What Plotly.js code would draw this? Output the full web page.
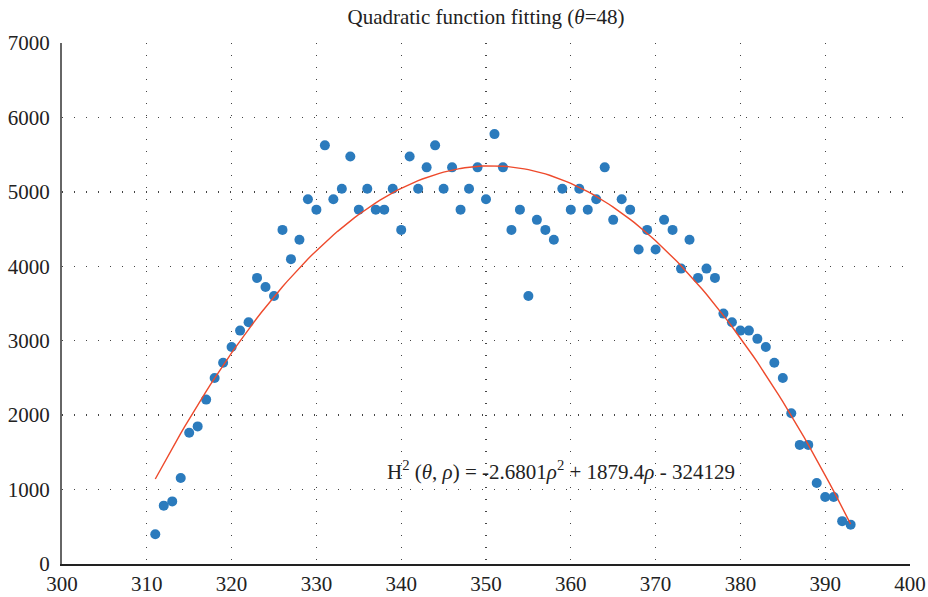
<!DOCTYPE html>
<html>
<head>
<meta charset="utf-8">
<script src="https://cdn.plot.ly/plotly-3.0.1.min.js"></script>
<style>html,body{margin:0;padding:0;background:#fff;}#chart{width:928px;height:597px;}</style>
</head>
<body>
<div id="chart"></div>
<script>
// Measured points: rho (x) and H^2 (y)
const rhoValues = [311,312,313,314,315,316,317,318,319,320,321,322,323,324,325,326,327,328,329,330,
  331,332,333,334,335,336,337,338,339,340,341,342,343,344,345,346,347,348,349,350,
  351,352,353,354,355,356,357,358,359,360,361,362,363,364,365,366,367,368,369,370,
  371,372,373,374,375,376,377,378,379,380,381,382,383,384,385,386,387,388,389,390,
  391,392,393];
const h2Values = [400,784,841,1156,1764,1849,2209,2500,2704,2916,3136,3249,3844,3721,3600,4489,4096,4356,4900,4761,
  5625,4900,5041,5476,4761,5041,4761,4761,5041,4489,5476,5041,5329,5625,5041,5329,4761,5041,5329,4900,
  5776,5329,4489,4761,3600,4624,4489,4356,5041,4761,5041,4761,4900,5329,4624,4900,4761,4225,4489,4225,
  4624,4489,3969,4356,3844,3969,3844,3364,3249,3136,3136,3025,2916,2704,2500,2025,1600,1600,1089,900,
  900,576,529];
// Fitted quadratic coefficients as printed on the chart: a*rho^2 + b*rho + c
const fitCoefficients = [-2.6801, 1879.4, -324129];
const fitRange = [311, 393];
const xTicks = [300,310,320,330,340,350,360,370,380,390,400];
const yTicks = [0,1000,2000,3000,4000,5000,6000,7000];

const fitX = [], fitY = [];
for (let r = fitRange[0]; r <= fitRange[1] + 1e-9; r += 0.5) {
  fitX.push(r);
  fitY.push(fitCoefficients[0]*r*r + fitCoefficients[1]*r + fitCoefficients[2]);
}

const serif = 'Liberation Serif, DejaVu Serif, serif';
const data = [
  {x: rhoValues, y: h2Values, type: 'scatter', mode: 'markers',
   marker: {color: '#2b7bbd', size: 10, line: {width: 0}}, hoverinfo: 'x+y'},
  {x: fitX, y: fitY, type: 'scatter', mode: 'lines',
   line: {color: '#ee4a2c', width: 1.4}, hoverinfo: 'skip'}
];
const gridStyle = {gridcolor: '#444', gridwidth: 1.3, griddash: '1.3px,10.7px'};
const layout = {
  width: 928, height: 597,
  margin: {l: 62, r: 18, t: 43, b: 33},
  paper_bgcolor: '#fff', plot_bgcolor: '#fff',
  showlegend: false,
  title: {text: 'Quadratic function fitting (<i>θ</i>=48)', x: 0.5, xref: 'paper', y: 0.972, yanchor: 'middle',
          font: {family: serif, size: 21, color: '#222'}},
  xaxis: Object.assign({range: [300, 400], tickvals: xTicks, ticktext: xTicks.map(String),
    showline: true, linecolor: '#222', linewidth: 2, zeroline: false, ticks: '',
    tickfont: {family: serif, size: 21, color: '#222'}, ticklabelstandoff: 0}, gridStyle),
  yaxis: Object.assign({range: [0, 7000], tickvals: yTicks, ticktext: yTicks.map(String),
    showline: true, linecolor: '#666', linewidth: 2, zeroline: false, ticks: '',
    tickfont: {family: serif, size: 21, color: '#222'}, ticklabelstandoff: 6}, gridStyle),
  annotations: [{
    x: 358.9, y: 1250, xref: 'x', yref: 'y', showarrow: false,
    text: 'H<sup>2</sup> (<i>θ</i>, <i>ρ</i>) = -2.6801<i>ρ</i><sup>2</sup> + 1879.4<i>ρ</i> - 324129',
    font: {family: serif, size: 21, color: '#222'}
  }]
};
Plotly.newPlot('chart', data, layout, {displayModeBar: false, staticPlot: true});
</script>
</body>
</html>
